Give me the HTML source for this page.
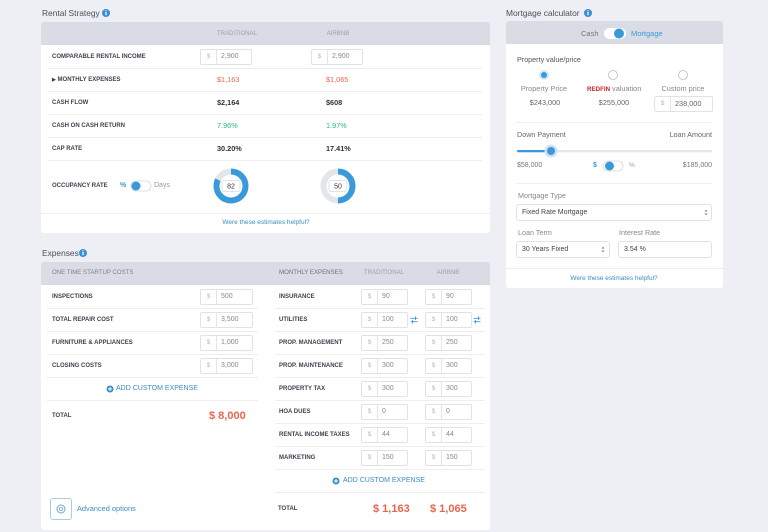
<!DOCTYPE html>
<html><head><meta charset="utf-8"><style>
*{box-sizing:border-box}
body{margin:0;width:768px;height:532px;background:#edeff4;position:relative;overflow:hidden;font-family:"Liberation Sans",sans-serif;}
.t{position:absolute;white-space:nowrap;line-height:12px;height:12px}
.c{width:100px;text-align:center}
.r{width:100px;text-align:right}
.ttl{font-size:8.4px;color:#4a4f5a}
.card{position:absolute;background:#fff;border-radius:3px}
.hd{position:absolute;background:#d9dce5;border-radius:3px 3px 0 0}
.lbl{font-size:6px;font-weight:bold;color:#3d424d}
.hl{font-size:6.1px;color:#9aa0aa}
.sep{position:absolute;height:1px;background:#eceef2}
.inp{position:absolute;height:16px;border:1px solid #dfe2e8;border-radius:2px;background:#fff}
.inp .d{position:absolute;left:0;top:0;width:16px;height:14px;text-align:center;font-size:6.5px;color:#bbb;line-height:14px;border-right:1px solid #e3e5ea}
.inp .v{position:absolute;left:20px;top:0;line-height:14px;font-size:7px;color:#888}
.val{font-size:7.3px;font-weight:bold;color:#333}
.red{color:#e8654d}
.grn{color:#2fb389}
.lnk{font-size:6.5px;color:#3a8fc0}
.mt{font-size:7.3px;color:#888}
.md{font-size:7.2px;color:#555}
.box{position:absolute;border:1px solid #dfe2e8;border-radius:3px;background:#fff}
.add{font-size:7px;color:#3a8fc0}
.big{font-size:11px;font-weight:bold;color:#e8654d}
</style></head><body>

<!-- cards -->
<div class="card" style="left:41px;top:22px;width:449px;height:211px"></div>
<div class="hd" style="left:41px;top:22px;width:449px;height:23px"></div>
<div class="card" style="left:506px;top:21px;width:217px;height:267px"></div>
<div class="hd" style="left:506px;top:21px;width:217px;height:23px"></div>
<div class="card" style="left:41px;top:262px;width:449px;height:268px"></div>
<div class="hd" style="left:41px;top:262px;width:449px;height:23px"></div>

<!-- separators rental -->
<div class="sep" style="left:48px;top:68px;width:434px"></div>
<div class="sep" style="left:48px;top:91px;width:434px"></div>
<div class="sep" style="left:48px;top:114px;width:434px"></div>
<div class="sep" style="left:48px;top:137px;width:434px"></div>
<div class="sep" style="left:48px;top:160px;width:434px"></div>
<div class="sep" style="left:41px;top:213px;width:449px"></div>
<!-- separators mortgage -->
<div class="sep" style="left:517px;top:122px;width:195px"></div>
<div class="sep" style="left:517px;top:183px;width:195px"></div>
<div class="sep" style="left:506px;top:268px;width:217px"></div>
<!-- separators expenses left -->
<div class="sep" style="left:47px;top:308px;width:211px"></div>
<div class="sep" style="left:47px;top:331px;width:211px"></div>
<div class="sep" style="left:47px;top:354px;width:211px"></div>
<div class="sep" style="left:47px;top:377px;width:211px"></div>
<div class="sep" style="left:47px;top:400px;width:211px"></div>
<!-- separators expenses right -->
<div class="sep" style="left:275px;top:308px;width:210px"></div>
<div class="sep" style="left:275px;top:331px;width:210px"></div>
<div class="sep" style="left:275px;top:354px;width:210px"></div>
<div class="sep" style="left:275px;top:377px;width:210px"></div>
<div class="sep" style="left:275px;top:400px;width:210px"></div>
<div class="sep" style="left:275px;top:423px;width:210px"></div>
<div class="sep" style="left:275px;top:446px;width:210px"></div>
<div class="sep" style="left:275px;top:469px;width:210px"></div>
<div class="sep" style="left:275px;top:492px;width:210px"></div>

<!-- titles -->
<div class="t ttl" style="left:42px;top:7px">Rental Strategy</div>
<div class="t ttl" style="left:42px;top:247px">Expenses</div>
<div class="t ttl" style="left:506px;top:7px">Mortgage calculator</div>

<!-- rental header -->
<div class="t c hl" style="left:187px;top:28px">TRADITIONAL</div>
<div class="t c hl" style="left:288px;top:28px">AIRBNB</div>

<!-- rental rows -->
<div class="t lbl" style="left:52px;top:51px">COMPARABLE RENTAL INCOME</div>
<div class="inp" style="left:200px;top:49px;width:52px"><span class="d">$</span><span class="v">2,900</span></div>
<div class="inp" style="left:311px;top:49px;width:52px"><span class="d">$</span><span class="v">2,900</span></div>

<div class="t lbl" style="left:52px;top:74px"><span style="font-size:5px">&#9654;</span>&nbsp;MONTHLY EXPENSES</div>
<div class="t val red" style="left:217px;top:74px;font-weight:normal">$1,163</div>
<div class="t val red" style="left:326px;top:74px;font-weight:normal">$1,065</div>

<div class="t lbl" style="left:52px;top:97px">CASH FLOW</div>
<div class="t val" style="left:217px;top:97px">$2,164</div>
<div class="t val" style="left:326px;top:97px">$608</div>

<div class="t lbl" style="left:52px;top:120px">CASH ON CASH RETURN</div>
<div class="t val grn" style="left:217px;top:120px;font-weight:normal">7.96%</div>
<div class="t val grn" style="left:326px;top:120px;font-weight:normal">1.97%</div>

<div class="t lbl" style="left:52px;top:143px">CAP RATE</div>
<div class="t val" style="left:217px;top:143px">30.20%</div>
<div class="t val" style="left:326px;top:143px">17.41%</div>

<div class="t lbl" style="left:52px;top:180px">OCCUPANCY RATE</div>
<div class="t" style="left:120px;top:180px;font-size:7px;color:#3a9ad9;font-weight:bold">%</div>
<div class="t" style="left:154px;top:180px;font-size:7px;color:#999">Days</div>

<div class="t c lnk" style="left:216px;top:217px">Were these estimates helpful?</div>

<!-- mortgage -->
<div class="t" style="left:581px;top:28px;font-size:7.5px;color:#777">Cash</div>
<div class="t" style="left:631px;top:28px;font-size:7.5px;color:#3a9ad9">Mortgage</div>
<div class="t md" style="left:517px;top:54px">Property value/price</div>
<div class="t c mt" style="left:494px;top:83px">Property Price</div>
<div class="t mt" style="left:587px;top:83px"><span style="color:#c8232a;font-weight:bold;font-size:6.2px">REDFIN</span> valuation</div>
<div class="t c mt" style="left:633px;top:83px">Custom price</div>
<div class="t c mt" style="left:495px;top:97px;color:#666">$243,000</div>
<div class="t c mt" style="left:564px;top:97px;color:#666">$255,000</div>
<div class="inp" style="left:654px;top:96px;width:59px"><span class="d">$</span><span class="v" style="color:#666;font-size:7.3px">238,000</span></div>

<div class="t md" style="left:517px;top:129px;color:#666">Down Payment</div>
<div class="t r md" style="left:612px;top:129px;color:#666">Loan Amount</div>
<div class="t md" style="left:517px;top:160px;color:#777;font-size:7px">$58,000</div>
<div class="t" style="left:593px;top:160px;font-size:7px;color:#3a9ad9;font-weight:bold">$</div>
<div class="t" style="left:629px;top:160px;font-size:6.5px;color:#999">%</div>
<div class="t r md" style="left:612px;top:160px;color:#777;font-size:7px">$185,000</div>

<div class="t md" style="left:518px;top:190px;color:#888">Mortgage Type</div>
<div class="box" style="left:516px;top:204px;width:196px;height:17px"></div>
<div class="t" style="left:522px;top:207px;font-size:7px;color:#444">Fixed Rate Mortgage</div>
<div class="t md" style="left:518px;top:227px;color:#888">Loan Term</div>
<div class="t md" style="left:619px;top:227px;color:#888">Interest Rate</div>
<div class="box" style="left:516px;top:241px;width:94px;height:17px"></div>
<div class="box" style="left:618px;top:241px;width:94px;height:17px"></div>
<div class="t" style="left:522px;top:244px;font-size:7px;color:#444">30 Years Fixed</div>
<div class="t" style="left:624px;top:244px;font-size:7px;color:#444">3.54 %</div>
<div class="t c lnk" style="left:564px;top:273px">Were these estimates helpful?</div>

<!-- expenses header -->
<div class="t hl" style="left:52px;top:267px;color:#7d828c">ONE TIME STARTUP COSTS</div>
<div class="t hl" style="left:279px;top:267px;color:#6d727c">MONTHLY EXPENSES</div>
<div class="t c hl" style="left:334px;top:267px">TRADITIONAL</div>
<div class="t c hl" style="left:398px;top:267px">AIRBNB</div>

<!-- expenses left -->
<div class="t lbl" style="left:52px;top:291px">INSPECTIONS</div>
<div class="t lbl" style="left:52px;top:314px">TOTAL REPAIR COST</div>
<div class="t lbl" style="left:52px;top:337px">FURNITURE &amp; APPLIANCES</div>
<div class="t lbl" style="left:52px;top:360px">CLOSING COSTS</div>
<div class="inp" style="left:200px;top:289px;width:53px"><span class="d">$</span><span class="v">500</span></div>
<div class="inp" style="left:200px;top:312px;width:53px"><span class="d">$</span><span class="v">3,500</span></div>
<div class="inp" style="left:200px;top:335px;width:53px"><span class="d">$</span><span class="v">1,000</span></div>
<div class="inp" style="left:200px;top:358px;width:53px"><span class="d">$</span><span class="v">3,000</span></div>
<div class="t add" style="left:116px;top:383px">ADD CUSTOM EXPENSE</div>
<div class="t lbl" style="left:52px;top:410px">TOTAL</div>
<div class="t big" style="left:209px;top:410px">$ 8,000</div>
<div style="position:absolute;left:50px;top:498px;width:22px;height:22px;border:1px solid #a9cde3;border-radius:3px;background:#fff"></div>
<div class="t" style="left:77px;top:503px;font-size:7.4px;color:#3a8fc0">Advanced options</div>

<!-- expenses right -->
<div class="t lbl" style="left:279px;top:291px">INSURANCE</div>
<div class="t lbl" style="left:279px;top:314px">UTILITIES</div>
<div class="t lbl" style="left:279px;top:337px">PROP. MANAGEMENT</div>
<div class="t lbl" style="left:279px;top:360px">PROP. MAINTENANCE</div>
<div class="t lbl" style="left:279px;top:383px">PROPERTY TAX</div>
<div class="t lbl" style="left:279px;top:406px">HOA DUES</div>
<div class="t lbl" style="left:279px;top:429px">RENTAL INCOME TAXES</div>
<div class="t lbl" style="left:279px;top:452px">MARKETING</div>

<div class="inp" style="left:361px;top:289px;width:47px"><span class="d">$</span><span class="v">90</span></div>
<div class="inp" style="left:425px;top:289px;width:47px"><span class="d">$</span><span class="v">90</span></div>
<div class="inp" style="left:361px;top:312px;width:47px"><span class="d">$</span><span class="v">100</span></div>
<div class="inp" style="left:425px;top:312px;width:47px"><span class="d">$</span><span class="v">100</span></div>
<div class="inp" style="left:361px;top:335px;width:47px"><span class="d">$</span><span class="v">250</span></div>
<div class="inp" style="left:425px;top:335px;width:47px"><span class="d">$</span><span class="v">250</span></div>
<div class="inp" style="left:361px;top:358px;width:47px"><span class="d">$</span><span class="v">300</span></div>
<div class="inp" style="left:425px;top:358px;width:47px"><span class="d">$</span><span class="v">300</span></div>
<div class="inp" style="left:361px;top:381px;width:47px"><span class="d">$</span><span class="v">300</span></div>
<div class="inp" style="left:425px;top:381px;width:47px"><span class="d">$</span><span class="v">300</span></div>
<div class="inp" style="left:361px;top:404px;width:47px"><span class="d">$</span><span class="v">0</span></div>
<div class="inp" style="left:425px;top:404px;width:47px"><span class="d">$</span><span class="v">0</span></div>
<div class="inp" style="left:361px;top:427px;width:47px"><span class="d">$</span><span class="v">44</span></div>
<div class="inp" style="left:425px;top:427px;width:47px"><span class="d">$</span><span class="v">44</span></div>
<div class="inp" style="left:361px;top:450px;width:47px"><span class="d">$</span><span class="v">150</span></div>
<div class="inp" style="left:425px;top:450px;width:47px"><span class="d">$</span><span class="v">150</span></div>

<div class="t add" style="left:343px;top:475px">ADD CUSTOM EXPENSE</div>
<div class="t lbl" style="left:278px;top:503px">TOTAL</div>
<div class="t big" style="left:373px;top:503px">$ 1,163</div>
<div class="t big" style="left:430px;top:503px">$ 1,065</div>

<!-- graphics -->
<svg style="position:absolute;left:0;top:0" width="768" height="532" xmlns="http://www.w3.org/2000/svg">
  <g font-family="Liberation Sans, sans-serif">
  <!-- info icons -->
  <circle cx="106" cy="13" r="4" fill="#3a8fd0"/><rect x="105.4" y="12" width="1.2" height="3.2" fill="#fff"/><rect x="105.4" y="10.3" width="1.2" height="1.1" fill="#fff"/>
  <circle cx="83" cy="253" r="4" fill="#3a8fd0"/><rect x="82.4" y="252" width="1.2" height="3.2" fill="#fff"/><rect x="82.4" y="250.3" width="1.2" height="1.1" fill="#fff"/>
  <circle cx="588" cy="13" r="4" fill="#3a8fd0"/><rect x="587.4" y="12" width="1.2" height="3.2" fill="#fff"/><rect x="587.4" y="10.3" width="1.2" height="1.1" fill="#fff"/>

  <!-- occupancy toggle -->
  <rect x="131" y="181" width="20" height="10" rx="5" fill="#fff" stroke="#d5d8de" stroke-width="0.8"/>
  <circle cx="136" cy="186" r="4.5" fill="#3a9ad9"/>

  <!-- donuts -->
  <circle cx="231" cy="186" r="14.5" fill="none" stroke="#e2e5ea" stroke-width="6"/>
  <circle cx="231" cy="186" r="14.5" fill="none" stroke="#3a9ad9" stroke-width="6" stroke-dasharray="74.7 100" transform="rotate(-90 231 186)"/>
  <rect x="222" y="180.5" width="18" height="11" rx="2" fill="#fff" stroke="#d8dbe0" stroke-width="0.8"/>
  <text x="231" y="188.6" font-size="7" text-anchor="middle" fill="#333">82</text>

  <circle cx="338" cy="186" r="14.5" fill="none" stroke="#e2e5ea" stroke-width="6"/>
  <circle cx="338" cy="186" r="14.5" fill="none" stroke="#3a9ad9" stroke-width="6" stroke-dasharray="45.55 100" transform="rotate(-90 338 186)"/>
  <rect x="329" y="180.5" width="18" height="11" rx="2" fill="#fff" stroke="#d8dbe0" stroke-width="0.8"/>
  <text x="338" y="188.6" font-size="7" text-anchor="middle" fill="#333">50</text>

  <!-- mortgage toggle -->
  <rect x="604" y="28" width="22" height="11" rx="5.5" fill="#fff"/>
  <circle cx="619" cy="33.5" r="5" fill="#3a9ad9"/>

  <!-- radios -->
  <circle cx="544" cy="75" r="5" fill="#d4e6f4"/><circle cx="544" cy="75" r="3" fill="#3a9ad9"/>
  <circle cx="613" cy="75" r="4.5" fill="#fff" stroke="#b8bcc4" stroke-width="0.8"/>
  <circle cx="683" cy="75" r="4.5" fill="#fff" stroke="#b8bcc4" stroke-width="0.8"/>

  <!-- slider -->
  <rect x="517" y="150" width="195" height="2.2" rx="1" fill="#e3e6eb"/>
  <rect x="517" y="150" width="34" height="2.2" rx="1" fill="#3a9ad9"/>
  <circle cx="551" cy="151" r="6.5" fill="#cfe2f3"/>
  <circle cx="551" cy="151" r="4" fill="#3a9ad9"/>

  <!-- dp toggle -->
  <rect x="603" y="161" width="20" height="10" rx="5" fill="#fff" stroke="#d5d8de" stroke-width="0.8"/>
  <circle cx="609.5" cy="166" r="4.5" fill="#3a9ad9"/>

  <!-- select arrows -->
  <path d="M704.5 211.5 L706 209.8 L707.5 211.5 Z M704.5 213.5 L706 215.2 L707.5 213.5 Z" fill="#777"/>
  <path d="M601.5 248.5 L603 246.8 L604.5 248.5 Z M601.5 250.5 L603 252.2 L604.5 250.5 Z" fill="#777"/>

  <!-- utilities icons -->
  <g stroke="#3a9ad9" stroke-width="0.9">
    <line x1="410.5" y1="318.3" x2="417.5" y2="318.3"/><line x1="410.5" y1="321.7" x2="417.5" y2="321.7"/>
    <line x1="415.5" y1="316.5" x2="415.5" y2="320"/><line x1="412.5" y1="320" x2="412.5" y2="323.5"/>
    <line x1="473.5" y1="318.3" x2="480.5" y2="318.3"/><line x1="473.5" y1="321.7" x2="480.5" y2="321.7"/>
    <line x1="478.5" y1="316.5" x2="478.5" y2="320"/><line x1="475.5" y1="320" x2="475.5" y2="323.5"/>
  </g>

  <!-- add custom icons -->
  <circle cx="110" cy="389" r="3.5" fill="#3a8fc0"/><path d="M108 389 H112 M110 387 V391" stroke="#fff" stroke-width="1"/>
  <circle cx="336" cy="481" r="3.5" fill="#3a8fc0"/><path d="M334 481 H338 M336 479 V483" stroke="#fff" stroke-width="1"/>

  <!-- gear -->
  <circle cx="61" cy="509" r="4" fill="none" stroke="#6aa8d0" stroke-width="1"/>
  <circle cx="61" cy="509" r="1.6" fill="none" stroke="#6aa8d0" stroke-width="0.8"/>
  </g>
</svg>
</body></html>
